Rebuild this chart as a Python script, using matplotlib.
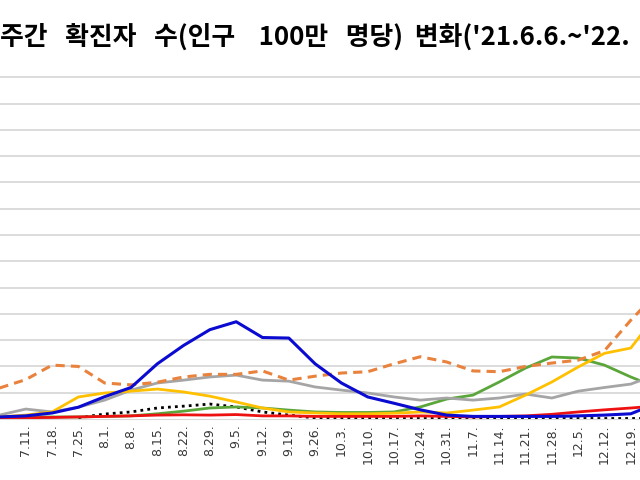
import matplotlib
matplotlib.use("Agg")
import matplotlib.pyplot as plt

plt.rcParams['font.family'] = ['Noto Sans CJK KR', 'DejaVu Sans']

# weekly dates (the visible part of the chart starts at 7.4.)
weeks = ["7.4.", "7.11.", "7.18.", "7.25.", "8.1.", "8.8.", "8.15.", "8.22.", "8.29.",
         "9.5.", "9.12.", "9.19.", "9.26.", "10.3.", "10.10.", "10.17.", "10.24.",
         "10.31.", "11.7.", "11.14.", "11.21.", "11.28.", "12.5.", "12.12.", "12.19.",
         "12.26."]

# values in grid units (one gridline step = 1)
blue = [0.08, 0.12, 0.23, 0.45, 0.85, 1.2, 2.1, 2.8, 3.4, 3.7, 3.1, 3.08, 2.1, 1.37,
        0.84, 0.6, 0.35, 0.15, 0.1, 0.1, 0.1, 0.1, 0.12, 0.15, 0.2, 0.6]
orange = [1.18, 1.5, 2.05, 2.0, 1.37, 1.3, 1.4, 1.6, 1.7, 1.7, 1.83, 1.48, 1.63, 1.75,
          1.8, 2.1, 2.37, 2.17, 1.83, 1.8, 2.0, 2.13, 2.24, 2.6, 3.76, 4.8]
gray = [0.15, 0.38, 0.27, 0.45, 0.72, 1.1, 1.37, 1.48, 1.6, 1.67, 1.48, 1.44, 1.22, 1.1,
        0.99, 0.84, 0.72, 0.8, 0.72, 0.8, 0.95, 0.8, 1.06, 1.2, 1.33, 1.7]
yellow = [0.08, 0.15, 0.27, 0.84, 0.99, 1.06, 1.14, 1.03, 0.87, 0.65, 0.42, 0.27, 0.23,
          0.2, 0.2, 0.22, 0.27, 0.23, 0.34, 0.46, 0.91, 1.41, 1.98, 2.5, 2.7, 4.0]
green = [0.08, 0.08, 0.08, 0.08, 0.1, 0.12, 0.2, 0.3, 0.42, 0.46, 0.42, 0.34, 0.27, 0.25,
         0.25, 0.27, 0.46, 0.76, 0.91, 1.41, 1.94, 2.36, 2.32, 2.05, 1.6, 1.2]
red = [0.04, 0.05, 0.06, 0.08, 0.1, 0.12, 0.15, 0.16, 0.15, 0.17, 0.12, 0.12, 0.1, 0.1,
       0.1, 0.1, 0.12, 0.1, 0.08, 0.1, 0.12, 0.18, 0.27, 0.35, 0.42, 0.5]
black = [None, None, None, 0.05, 0.19, 0.27, 0.42, 0.49, 0.57, 0.46, 0.27, 0.15, 0.04,
         0.02, 0.02, 0.02, 0.02, 0.02, 0.02, 0.02, 0.02, 0.02, 0.02, 0.02, 0.02, 0.02]

title = "주간   확진자   수(인구    100만   명당)  변화('21.6.6.~'22."

x = list(range(len(weeks)))

fig = plt.figure(figsize=(6.4, 4.8), dpi=100)
ax = fig.add_axes([0, 0.127, 1, 0.734])

for y in range(1, 14):
    ax.axhline(y, color="#d9d9d9", lw=1.3, zorder=0)

bx = [i for i, v in zip(x, black) if v is not None]
bv = [v for v in black if v is not None]
ax.plot(bx, bv, color="black", lw=2.0, ls=(0, (1, 1.5)), zorder=2)
ax.plot(x, green, color="#5aa63a", lw=2.0, zorder=3)
ax.plot(x, gray, color="#a5a5a5", lw=2.0, zorder=3)
ax.plot(x, yellow, color="#ffc000", lw=2.0, zorder=3)
ax.plot(x, orange, color="#e8823d", lw=2.2, ls=(0, (3, 2)), zorder=4)
ax.plot(x, red, color="#ee1111", lw=2.0, zorder=4)
ax.plot(x, blue, color="#0a0ad0", lw=2.2, zorder=5)

# labels only for the weeks fully inside the picture
ax.set_xticks(x[1:25])
ax.set_xticklabels(weeks[1:25], rotation=90, fontsize=9, color="#383838",
                   family=['DejaVu Sans'])
ax.set_xlim(0.02, 24.35)
ax.set_ylim(0, 13.4)
ax.set_yticks([])
ax.tick_params(axis="x", length=0, pad=4)
for s in ["left", "right", "top"]:
    ax.spines[s].set_visible(False)
ax.spines["bottom"].set_color("#d9d9d9")

fig.text(0.0, 0.923, title, fontsize=18.6, fontweight="bold", color="black",
         ha="left", va="center")

fig.savefig("out.png", dpi=100)
